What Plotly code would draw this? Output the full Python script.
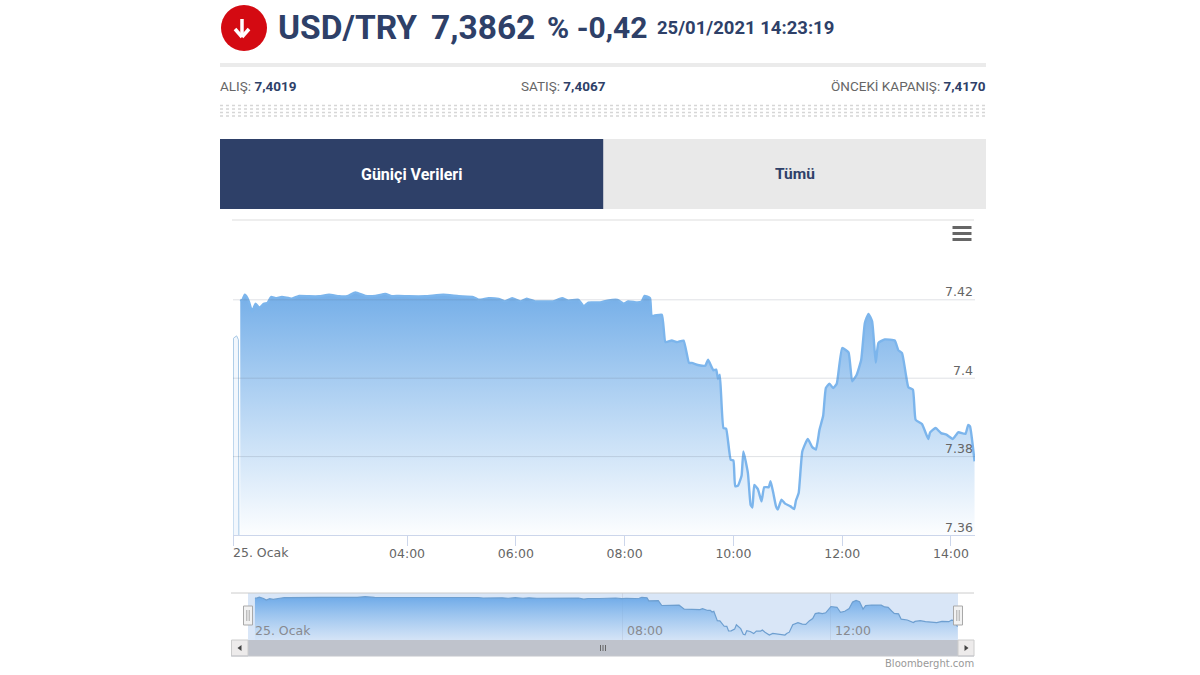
import plotly.graph_objects as go

# opening column at the very left of the chart, separate from the main session
opening_minutes = [48, 48.5, 52, 54, 54.5]
opening_prices = [7.36, 7.4102, 7.4108, 7.4098, 7.36]

# minutes since midnight on 25 Jan 2021 (ordinal axis start at about 00:48 on the picture)
minutes = [56, 58, 61, 64, 66, 69, 73, 77, 82, 86, 90, 95, 102, 113, 121, 132, 143, 154, 165, 174, 183, 194, 205, 216, 223, 231, 242, 260, 280, 297, 313, 319, 330, 341, 348, 356, 365, 372, 381, 392, 401, 411, 418, 429, 435, 440,
           453, 461, 472, 479, 484, 494, 499, 502, 508, 510, 521, 525, 532, 538, 545, 551, 554, 562, 569, 572, 578, 581, 583, 585, 589, 592, 597, 600, 602, 605, 609, 611, 616, 619, 621, 623, 627, 631, 634, 639, 641, 644, 647, 649, 653, 657, 663, 667, 669, 672, 676, 682, 687, 691, 695, 699, 702, 706, 710, 714, 720, 727, 731, 736, 741, 745, 749, 753, 757, 760, 767, 778, 782, 786, 790, 793, 798, 801, 808, 815, 817, 823, 829, 835, 842, 848, 856, 859, 861, 866]
prices = [7.4200, 7.4198, 7.4213, 7.4204, 7.4192, 7.4170, 7.4190, 7.4179, 7.4190, 7.4192, 7.4207, 7.4204, 7.4207, 7.4203, 7.4210, 7.4209, 7.4209, 7.4213, 7.4209, 7.4209, 7.4219, 7.4210, 7.4210, 7.4215, 7.4209, 7.4210, 7.4209, 7.4209, 7.4213, 7.4209, 7.4207, 7.4200, 7.4204, 7.4202, 7.4196, 7.4204, 7.4196, 7.4203, 7.4196, 7.4196, 7.4196, 7.4204, 7.4198, 7.4200, 7.4183, 7.4193,
          7.4193, 7.4198, 7.4200, 7.4190, 7.4196, 7.4193, 7.4196, 7.4210, 7.4204, 7.4159, 7.4162, 7.4092, 7.4096, 7.4092, 7.4096, 7.4039, 7.4039, 7.4033, 7.4032, 7.4047, 7.4020, 7.4022, 7.3998, 7.4009, 7.3873, 7.3871, 7.3792, 7.3790, 7.3724, 7.3726, 7.3751, 7.3813, 7.3758, 7.3677, 7.3670, 7.3728, 7.3717, 7.3686, 7.3722, 7.3722, 7.3737, 7.3707, 7.3673, 7.3665, 7.3690, 7.3680, 7.3673, 7.3666, 7.3688, 7.3707, 7.3813, 7.3845, 7.3824, 7.3818, 7.3869, 7.3904, 7.3975, 7.3986, 7.3975, 7.3986, 7.4077, 7.4066, 7.3992, 7.4009, 7.4047, 7.4141, 7.4164, 7.4145, 7.4040, 7.4090, 7.4099, 7.4096, 7.4071, 7.4064, 7.4013, 7.3977, 7.3971, 7.3894, 7.3883, 7.3845, 7.3862, 7.3873, 7.3860, 7.3856, 7.3845, 7.3862, 7.3858, 7.3881, 7.3877, 7.3788]

y_ticks = [7.36, 7.38, 7.40, 7.42]
y_labels = ["7.36", "7.38", "7.4", "7.42"]
x_ticks = [48, 240, 360, 480, 600, 720, 840]
x_labels = ["", "04:00", "06:00", "08:00", "10:00", "12:00", "14:00"]
nav_ticks = [48, 480, 720]
nav_labels = ["25. Ocak", "08:00", "12:00"]

NAVY = "#2E4068"
W, H = 1200, 675
px = lambda v: v / W
py = lambda v: 1 - v / H
top = max(prices)

fig = go.Figure()
GRAD = [[0, "rgba(124,181,236,0.02)"], [1, "rgba(116,174,232,1)"]]
fig.add_trace(go.Scatter(x=opening_minutes, y=opening_prices, mode="lines", line=dict(color="#A6C8E6", width=1),
                         fill="tozeroy", fillcolor="rgba(124,181,236,0.10)", hoverinfo="skip", showlegend=False))
fig.add_trace(go.Scatter(x=minutes, y=prices, mode="lines", line=dict(color="#7CB5EC", width=2.4, shape="spline", smoothing=0.4),
                         fill="tozeroy", fillgradient=dict(type="vertical", colorscale=GRAD, start=min(y_ticks), stop=top),
                         hoverinfo="skip", showlegend=False))
fig.add_trace(go.Scatter(x=minutes, y=prices, mode="lines", line=dict(color="#6E9FD0", width=1.2), xaxis="x2", yaxis="y2",
                         fill="tozeroy", fillgradient=dict(type="vertical", colorscale=[[0, "rgba(124,181,236,0.05)"], [1, "rgba(110,170,232,1)"]], start=7.3594, stop=top),
                         hoverinfo="skip", showlegend=False))

shapes = []
def rect(x0, y0, x1, y1, color, line=None, layer="above", width=1):
    shapes.append(dict(type="rect", xref="paper", yref="paper", x0=px(x0), x1=px(x1), y0=py(y0), y1=py(y1),
                       fillcolor=color, line=dict(color=line or color, width=width if line else 0), layer=layer))
def hline(x0, y0, x1, y1, color, width=1, dash="solid"):
    shapes.append(dict(type="line", xref="paper", yref="paper", x0=px(x0), x1=px(x1), y0=py(y0), y1=py(y1),
                       line=dict(color=color, width=width, dash=dash)))

# header
shapes.append(dict(type="circle", xref="paper", yref="paper", x0=px(221), x1=px(267), y0=py(51), y1=py(5), fillcolor="#D40A12", line=dict(width=0)))
hline(242, 19, 242, 36, "white", 3.5)
hline(235, 29, 242, 37, "white", 3.5)
hline(249, 29, 242, 37, "white", 3.5)
rect(220, 63, 986, 67, "#EBEBEB")
for yy in (105.5, 109, 112.5, 116):
    hline(220, yy, 986, yy, "#D6D6D6", 1.5, "dot")
rect(220, 139, 603.5, 209, NAVY)
rect(603.5, 139, 986, 209, "#E9E9E9")
hline(232, 220, 974, 220, "#DDDDDD")
for yy in (227.5, 233.5, 239.5):
    hline(952.5, yy, 971.5, yy, "#666666", 3)

# grid lines above the area, as in the reference
for t in y_ticks[1:]:
    shapes.append(dict(type="line", xref="x", yref="y", x0=48, x1=866.5, y0=t, y1=t, line=dict(color="rgba(95,105,125,0.20)", width=1)))

# navigator
rect(248, 593, 958, 640, "#D9E6F7", layer="below")
hline(231, 593, 974, 593, "#CCCCCC")
rect(248, 640, 958, 656, "#BFC3CC")
rect(231.5, 640, 248, 656, "#EDEBEB", line="#CCCCCC")
rect(958, 640, 974, 656, "#EDEBEB", line="#CCCCCC")
hline(231, 656, 974, 656, "#C4C6CC")
for xx in (600.5, 603, 605.5):
    hline(xx, 645, xx, 651, "#666666", 1)
shapes.append(dict(type="path", xref="paper", yref="paper", line=dict(width=0), fillcolor="#444444",
                   path=f"M {px(241.5)} {py(645)} L {px(237.5)} {py(648)} L {px(241.5)} {py(651)} Z"))
shapes.append(dict(type="path", xref="paper", yref="paper", line=dict(width=0), fillcolor="#444444",
                   path=f"M {px(964.5)} {py(645)} L {px(968.5)} {py(648)} L {px(964.5)} {py(651)} Z"))
for xc in (248, 958):
    rect(xc - 4.5, 606, xc + 4.5, 625, "#F2F2F2", line="#A9A9A9")
    hline(xc - 1.2, 610, xc - 1.2, 621, "#A9A9A9")
    hline(xc + 1.2, 610, xc + 1.2, 621, "#A9A9A9")

ann = []
def text(x, y, s, size, color, anchor="left", family="Roboto"):
    ann.append(dict(xref="paper", yref="paper", x=px(x), y=py(y), text=s, showarrow=False, xanchor=anchor, yanchor="middle",
                    font=dict(size=size, color=color, family=family), borderpad=0, borderwidth=0))

text(278, 28, "<b>USD/TRY</b>", 33.5, NAVY)
text(431, 28, "<b>7,3862</b>", 33.5, NAVY)
text(547, 28, "<b>% -0,42</b>", 30, NAVY)
text(657, 28, "<b>25/01/2021 14:23:19</b>", 18.5, NAVY)
B = lambda v: f'<span style="color:{NAVY}"><b>{v}</b></span>'
text(220, 86, "ALIŞ: " + B("7,4019"), 13.5, "#666666")
text(521, 86, "SATIŞ: " + B("7,4067"), 13.5, "#666666")
text(986, 86, "ÖNCEKİ KAPANIŞ: " + B("7,4170"), 13.5, "#666666", "right")
text(411.5, 174, "<b>Güniçi Verileri</b>", 16, "#FFFFFF", "center")
text(794.5, 174, "<b>Tümü</b>", 15.5, NAVY, "center")
text(233, 552, "25. Ocak", 12.5, "#666666", family="DejaVu Sans")
text(974, 663, "Bloomberght.com", 10, "#999999", "right", "DejaVu Sans")
for t, lab in zip(y_ticks, y_labels):
    ann.append(dict(xref="paper", yref="y", x=px(974.5), y=t, yshift=8, text=lab, showarrow=False, xanchor="right", yanchor="middle",
                    font=dict(size=12.5, color="#666666", family="DejaVu Sans")))
for i, (t, lab) in enumerate(zip(nav_ticks, nav_labels)):
    ann.append(dict(xref="x2", yref="paper", x=t, y=py(630), text=lab, showarrow=False, xanchor="left", xshift=5 if i == 0 else 2, yanchor="middle",
                    font=dict(size=12.5, color="#888A90", family="DejaVu Sans")))

fig.update_layout(
    width=W, height=H, autosize=False, margin=dict(l=0, r=0, t=0, b=0), paper_bgcolor="white", plot_bgcolor="rgba(0,0,0,0)",
    hovermode=False, showlegend=False, shapes=shapes, annotations=ann,
    xaxis=dict(domain=[px(233), px(975)], range=[48, 866.5], tickmode="array", tickvals=x_ticks, ticktext=x_labels,
               ticks="outside", ticklen=10, tickcolor="#CCD6EB", showgrid=False, zeroline=False, showline=True, linecolor="#CCD6EB",
               ticklabelstandoff=-3, tickfont=dict(family="DejaVu Sans", size=12.5, color="#666666"), anchor="y"),
    yaxis=dict(domain=[py(535), py(280)], range=[7.36, 7.42505], showticklabels=False, ticks="", showgrid=False, zeroline=False, showline=False, anchor="x"),
    xaxis2=dict(domain=[px(248), px(958)], range=[48, 866.5], tickmode="array", tickvals=nav_ticks, ticktext=[""] * 3, ticks="",
                showgrid=True, gridcolor="rgba(200,210,225,0.8)", zeroline=False, showline=False, anchor="y2"),
    yaxis2=dict(domain=[py(640), py(593)], range=[7.3594, 7.4272], showticklabels=False, ticks="", showgrid=False, zeroline=False, showline=False, anchor="x2"),
)
fig.write_html("out.html", config=dict(displayModeBar=False), post_script="document.body.style.margin='0';")
